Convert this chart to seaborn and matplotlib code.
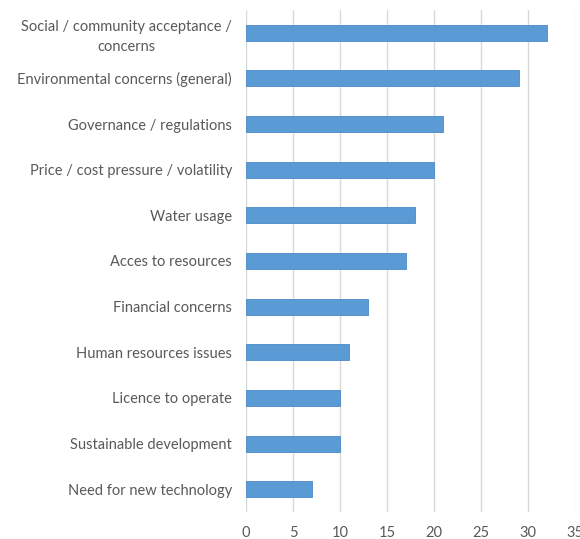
import matplotlib
matplotlib.use("Agg")
import matplotlib.pyplot as plt
import seaborn as sns
import pandas as pd

categories = [
    "Social / community acceptance /\nconcerns",
    "Environmental concerns (general)",
    "Governance / regulations",
    "Price / cost pressure / volatility",
    "Water usage",
    "Acces to resources",
    "Financial concerns",
    "Human resources issues",
    "Licence to operate",
    "Sustainable development",
    "Need for new technology",
]
values = [32, 29, 21, 20, 18, 17, 13, 11, 10, 10, 7]
xticks = [0, 5, 10, 15, 20, 25, 30, 35]

df = pd.DataFrame({"category": categories, "value": values})

sns.set_style("white")
plt.rcParams["font.family"] = ["Lato", "DejaVu Sans"]

fig = plt.figure(figsize=(5.8, 5.39), dpi=100)
ax = fig.add_axes([246 / 580, 1 - 512 / 539, (575 - 246) / 580, (512 - 10) / 539])

sns.barplot(data=df, x="value", y="category", color="#5B9BD5", saturation=1,
            width=0.35, edgecolor="#4A8AC8", linewidth=0.6, ax=ax, zorder=3)

ax.set_xlim(0, 35)
ax.set_ylim(10.5, -0.5)
ax.set_xticks(xticks)
ax.set_xlabel("")
ax.set_ylabel("")
ax.grid(axis="x", color="#D9D9D9", linewidth=1, zorder=0)
ax.grid(axis="y", visible=False)
for s in ax.spines.values():
    s.set_visible(False)
ax.tick_params(axis="both", length=0, colors="#595959", labelsize=10.5)
ax.tick_params(axis="y", pad=10)
ax.tick_params(axis="x", pad=10)
for lbl in ax.get_yticklabels():
    lbl.set_multialignment("center")
    lbl.set_linespacing(1.5)

fig.savefig("out.png", dpi=100)
